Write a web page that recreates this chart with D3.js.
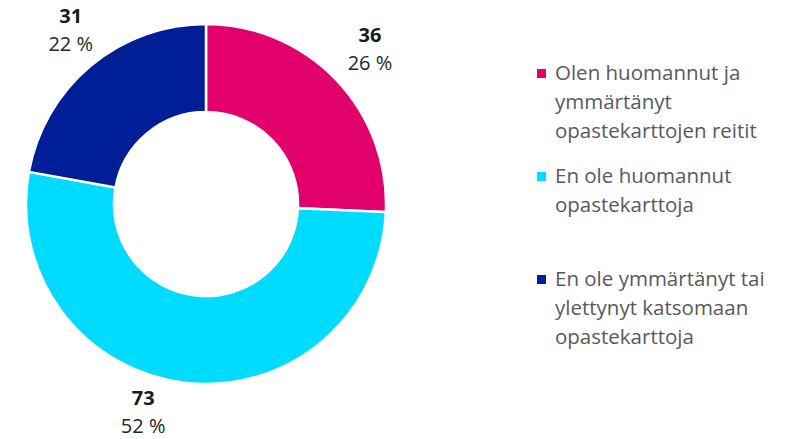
<!doctype html>
<html lang='fi'>
<head>
<meta charset='UTF-8'>
<title>Donut</title>
<style>
  body { margin: 0; background: #fff; }
  text { font-family: 'Open Sans', 'Noto Sans', sans-serif; }
  .val { font-weight: bold; fill: #1a1a1a; font-size: 20px; }
  .pct { fill: #262626; font-size: 20px; }
  .legend text { fill: #595959; font-size: 20.5px; }
</style>
</head>
<body>
<script src='https://cdn.jsdelivr.net/npm/d3@7'></script>
<script>
  const categories = [
    'Olen huomannut ja ymmärtänyt opastekarttojen reitit',
    'En ole huomannut opastekarttoja',
    'En ole ymmärtänyt tai ylettynyt katsomaan opastekarttoja'
  ]
  const values = [36, 73, 31]
  const percents = ['26 %', '52 %', '22 %']
  const legendLines = [
    ['Olen huomannut ja', 'ymmärtänyt', 'opastekarttojen reitit'],
    ['En ole huomannut', 'opastekarttoja'],
    ['En ole ymmärtänyt tai', 'ylettynyt katsomaan', 'opastekarttoja']
  ]
  const colors = ['#E2006A', '#00DCFF', '#001F96']

  const width = 795
  const height = 439
  const cx = 206, cy = 204
  const outerR = 180, innerR = 92
  const labelR = 222
  // small label shifts like Excel's best fit placement
  const nudge = [[3.5, -1.3], [-38, -13], [7, -3.3]]

  const svg = d3.select('body').append('svg')
    .attr('width', width)
    .attr('height', height)

  const pie = d3.pie().sort(null).value(d => d)
  const arcs = pie(values)

  const arc = d3.arc().innerRadius(innerR).outerRadius(outerR)
  const labelArc = d3.arc().innerRadius(labelR).outerRadius(labelR)

  const g = svg.append('g').attr('transform', `translate(${cx}, ${cy})`)

  g.selectAll('path')
    .data(arcs)
    .join('path')
    .attr('d', arc)
    .attr('fill', (d, i) => colors[i])
    .attr('stroke', '#fff')
    .attr('stroke-width', 2.5)

  const labels = g.selectAll('g.label')
    .data(arcs)
    .join('g')
    .attr('class', 'label')
    .attr('transform', (d, i) => {
      const c = labelArc.centroid(d)
      return `translate(${c[0] + nudge[i][0]}, ${c[1] + nudge[i][1]})`
    })

  labels.append('text')
    .attr('class', 'val')
    .attr('text-anchor', 'middle')
    .attr('y', -7)
    .text(d => d.data)

  labels.append('text')
    .attr('class', 'pct')
    .attr('text-anchor', 'middle')
    .attr('y', 21)
    .text((d, i) => percents[i])

  const legend = svg.append('g')
    .attr('class', 'legend')
    .attr('transform', 'translate(537, 80)')

  const item = legend.selectAll('g')
    .data(categories)
    .join('g')
    .attr('transform', (d, i) => `translate(0, ${i * 103})`)

  item.append('rect')
    .attr('x', 0)
    .attr('y', -11)
    .attr('width', 9)
    .attr('height', 9)
    .attr('fill', (d, i) => colors[i])

  item.append('text')
    .attr('x', 18)
    .selectAll('tspan')
    .data((d, i) => legendLines[i])
    .join('tspan')
    .attr('x', 18)
    .attr('y', (d, j) => j * 29)
    .text(d => d)
</script>
</body>
</html>
